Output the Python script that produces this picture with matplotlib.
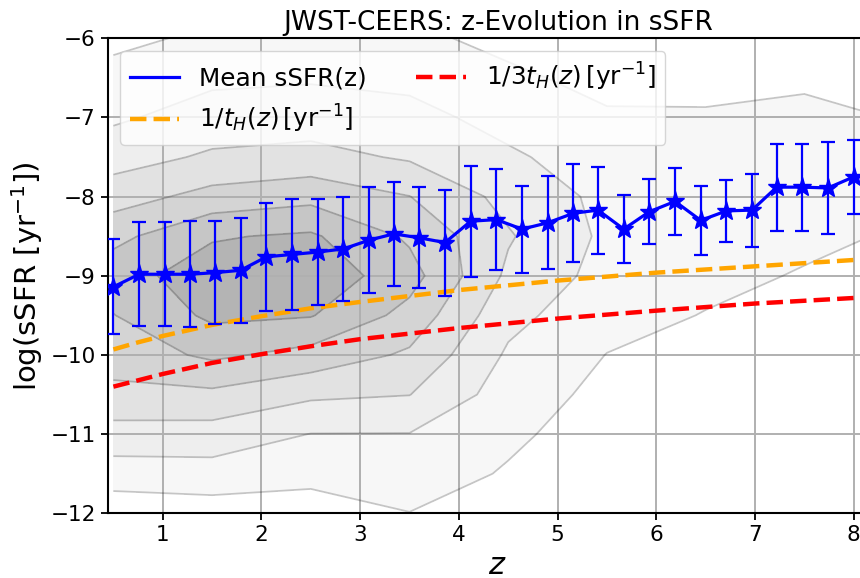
import numpy as np
import matplotlib
matplotlib.use("Agg")
import matplotlib.pyplot as plt

# mean sSFR per redshift bin
z_bins = [0.50, 0.76, 1.02, 1.28, 1.53, 1.79, 2.05, 2.31, 2.57, 2.83,
          3.09, 3.34, 3.60, 3.86, 4.12, 4.38, 4.64, 4.90, 5.16, 5.41,
          5.67, 5.93, 6.19, 6.45, 6.71, 6.97, 7.22, 7.48, 7.74, 8.00]
mean_ssfr = [-9.14, -8.98, -8.98, -8.98, -8.96, -8.93, -8.76, -8.73, -8.70, -8.66,
             -8.55, -8.47, -8.52, -8.58, -8.31, -8.29, -8.41, -8.33, -8.21, -8.17,
             -8.41, -8.19, -8.06, -8.30, -8.18, -8.17, -7.88, -7.88, -7.89, -7.75]
err_ssfr = [0.60, 0.66, 0.66, 0.67, 0.65, 0.66, 0.68, 0.70, 0.67, 0.66,
            0.67, 0.66, 0.64, 0.67, 0.70, 0.64, 0.55, 0.59, 0.62, 0.55,
            0.43, 0.41, 0.42, 0.44, 0.39, 0.46, 0.55, 0.55, 0.58, 0.47]

# 1/t_H and 1/3t_H curves
z_h = [0.5, 0.75, 1.0, 1.5, 2.0, 2.5, 3.0, 4.0, 5.0, 6.0, 7.0, 8.0]
inv_th = [-9.93, -9.84, -9.76, -9.62, -9.51, -9.41, -9.33, -9.18, -9.06, -8.96, -8.88, -8.80]
inv_3th = [-10.40, -10.32, -10.24, -10.10, -9.99, -9.89, -9.80, -9.66, -9.54, -9.44, -9.35, -9.28]

# background galaxy density, coarse grid (one list per z column, y from -12.5 up to -5.5)
grid_z = [0.5, 1.5, 2.5, 3.5, 4.5, 5.5, 6.5, 7.5, 8.5]
grid_y = [-12.5, -12.0, -11.5, -11.0, -10.5, -10.0, -9.5, -9.0,
          -8.5, -8.0, -7.5, -7.0, -6.5, -6.0, -5.5]
density_cols = [
    [0.00, 0.33, 1.52, 2.60, 3.75, 4.43, 4.97, 5.60, 4.71, 3.55, 2.57, 1.85, 1.34, 0.75, 0.30],
    [0.00, 0.50, 1.59, 2.58, 3.78, 5.19, 6.21, 6.49, 5.91, 4.34, 3.15, 2.42, 1.81, 1.20, 0.80],
    [0.00, 0.55, 1.28, 1.98, 3.18, 4.66, 6.06, 6.70, 6.15, 4.69, 3.32, 2.53, 1.90, 1.40, 0.90],
    [0.60, 0.98, 1.53, 1.97, 3.02, 3.84, 4.67, 5.40, 4.84, 4.02, 2.88, 2.31, 1.75, 1.22, 0.68],
    [0.60, 0.91, 0.90, 1.20, 1.53, 1.86, 2.29, 2.80, 3.10, 2.68, 2.15, 1.66, 1.19, 0.72, 0.25],
    [0.10, 0.20, 0.35, 0.50, 0.72, 0.98, 1.35, 1.65, 1.80, 1.75, 1.50, 1.12, 0.70, 0.45, 0.30],
    [0.05, 0.10, 0.20, 0.35, 0.55, 0.78, 0.96, 1.25, 1.45, 1.55, 1.45, 1.10, 0.72, 0.45, 0.25],
    [0.02, 0.05, 0.10, 0.20, 0.35, 0.55, 0.75, 0.93, 1.20, 1.42, 1.45, 1.22, 0.85, 0.50, 0.30],
    [0.00, 0.02, 0.05, 0.10, 0.20, 0.35, 0.50, 0.70, 0.90, 1.15, 1.22, 0.95, 0.60, 0.35, 0.20],
]
levels = [1, 2, 3, 4, 5, 6, 7]
fill_colors = ["#f7f7f7", "#eeeeee", "#e2e2e2", "#d4d4d4", "#c6c6c6", "#b4b4b4"]

fig = plt.figure(figsize=(8.6, 5.78), dpi=100)
# axes run a little past the right edge of the canvas, as in the reference crop
ax = fig.add_axes([0.1252, 0.1119, 0.9073, 0.8218])

dens = np.array(density_cols).T
ax.contourf(grid_z, grid_y, dens, levels=levels, colors=fill_colors)
ax.contour(grid_z, grid_y, dens, levels=levels[:-1], colors="k", alpha=0.2,
           linewidths=1.3)

ax.errorbar(z_bins, mean_ssfr, yerr=err_ssfr, fmt="*", color="blue", ms=14,
            elinewidth=1.6, capsize=5, capthick=1.6, zorder=4)
ax.plot(z_bins, mean_ssfr, color="blue", lw=2.3, label="Mean sSFR(z)", zorder=4)
ax.plot(z_h, inv_th, color="orange", ls="--", lw=3.2,
        label=r"$1/t_H(z)\,[\mathrm{yr}^{-1}]$", zorder=3)
ax.plot(z_h, inv_3th, color="red", ls="--", lw=3.2,
        label=r"$1/3t_H(z)\,[\mathrm{yr}^{-1}]$", zorder=3)

ax.set_xlim(0.442, 8.347)
ax.set_ylim(-12, -6)
ax.set_xticks(range(1, 9))
ax.grid(True, color="#b0b0b0", lw=1.4)
ax.tick_params(labelsize=15.5, width=1.3, length=5)
for s in ax.spines.values():
    s.set_linewidth(1.5)

ax.set_title("JWST-CEERS: z-Evolution in sSFR", fontsize=19)
ax.set_xlabel(r"$z$", fontsize=22)
ax.set_ylabel(r"log(sSFR [yr$^{-1}$])", fontsize=21)
ax.legend(loc="upper left", ncol=2, fontsize=17.8)

fig.savefig("out.png", dpi=100)
